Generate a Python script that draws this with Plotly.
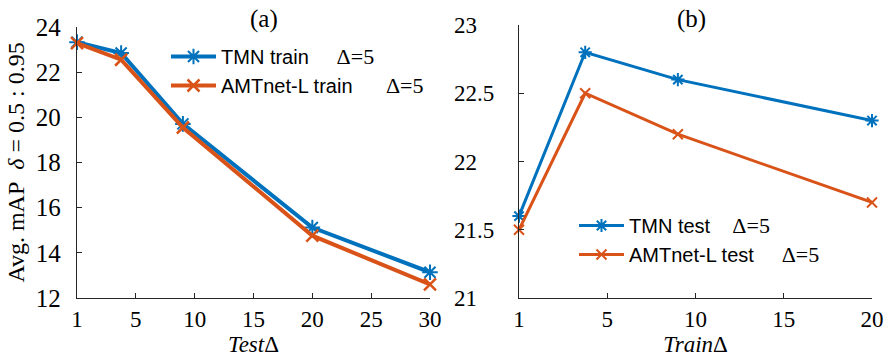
import numpy as np
import plotly.graph_objects as go

# ---- data ----
ticks_a = [1, 5, 10, 15, 20, 25, 30]
x_a = [1, 4, 9, 20, 30]
tmn_train = [23.33, 22.85, 19.71, 15.12, 13.14]
amt_train = [23.29, 22.55, 19.55, 14.76, 12.60]

ticks_b = [1, 5, 10, 15, 20]
x_b = [1, 4, 9, 20]
tmn_test = [21.6, 22.8, 22.6, 22.3]
amt_test = [21.5, 22.5, 22.2, 21.7]

yticks_a = [12, 14, 16, 18, 20, 22, 24]
yticks_b = [21, 21.5, 22, 22.5, 23]

BLUE = "#0072BD"
ORANGE = "#D95319"
AX = "#262626"
SERIF = "Liberation Serif"
SANS = "Liberation Sans"

W, H = 891, 363


def pos(x, ticks):
    # the original axis places its ticks evenly; map values piecewise onto them
    return np.interp(x, ticks, np.arange(len(ticks)))


def label(name, gap):
    return (name + "\u00a0" * gap +
            '<span style="font-family:Liberation Serif;font-size:22px">\u0394=5</span>')


def ytext(v):
    s = f"{v:g}"
    # pad integers so that labels line up on the left like the original
    return s if "." in s else s + "\u2008\u2007"


fig = go.Figure()

fig.add_trace(go.Scatter(
    x=pos(x_a, ticks_a), y=tmn_train, mode="lines+markers",
    name=label("TMN train", 5), legend="legend",
    line=dict(color=BLUE, width=4),
    marker=dict(symbol="asterisk-open", size=13, color=BLUE,
                line=dict(color=BLUE, width=2)),
    xaxis="x", yaxis="y", cliponaxis=False))
fig.add_trace(go.Scatter(
    x=pos(x_a, ticks_a), y=amt_train, mode="lines+markers",
    name=label("AMTnet-L train", 6), legend="legend",
    line=dict(color=ORANGE, width=4),
    marker=dict(symbol="x-thin-open", size=12, color=ORANGE,
                line=dict(color=ORANGE, width=2.5)),
    xaxis="x", yaxis="y", cliponaxis=False))

fig.add_trace(go.Scatter(
    x=pos(x_b, ticks_b), y=tmn_test, mode="lines+markers",
    name=label("TMN test", 4), legend="legend2",
    line=dict(color=BLUE, width=3),
    marker=dict(symbol="asterisk-open", size=11, color=BLUE,
                line=dict(color=BLUE, width=2)),
    xaxis="x2", yaxis="y2", cliponaxis=False))
fig.add_trace(go.Scatter(
    x=pos(x_b, ticks_b), y=amt_test, mode="lines+markers",
    name=label("AMTnet-L test", 5), legend="legend2",
    line=dict(color=ORANGE, width=3),
    marker=dict(symbol="x-thin-open", size=10, color=ORANGE,
                line=dict(color=ORANGE, width=2)),
    xaxis="x2", yaxis="y2", cliponaxis=False))

common_axis = dict(showline=True, linecolor=AX, linewidth=1.3, ticks="inside",
                   ticklen=5, tickwidth=1.2, tickcolor=AX, showgrid=False,
                   zeroline=False, mirror=False, automargin=False)
tick23 = dict(family=SERIF, size=23, color="#000")

fig.update_layout(
    template="none",
    width=W, height=H,
    margin=dict(l=0, r=0, t=0, b=0, pad=0),
    font=dict(family=SERIF, color="#000"),
    paper_bgcolor="white", plot_bgcolor="white",
    xaxis=dict(domain=[77 / W, 430 / W], range=[0, len(ticks_a) - 1],
               tickvals=list(range(len(ticks_a))), ticktext=[str(t) for t in ticks_a],
               anchor="y", ticklabelstandoff=0, tickfont=tick23,
               title=dict(text="<i>Test</i>\u0394", standoff=2,
                          font=dict(family=SERIF, size=23, color="#000")),
               **common_axis),
    yaxis=dict(domain=[1 - 298 / H, 1 - 27 / H], range=[12, 24],
               tickvals=yticks_a, anchor="x", ticklabelstandoff=10,
               tickfont=dict(family=SERIF, size=25, color="#000"),
               title=dict(text="Avg. mAP\u00a0\u00a0<i>\u03b4</i> = 0.5 : 0.95", standoff=4,
                          font=dict(family=SERIF, size=24, color="#000")),
               **common_axis),
    xaxis2=dict(domain=[519 / W, 872 / W], range=[0, len(ticks_b) - 1],
                tickvals=list(range(len(ticks_b))), ticktext=[str(t) for t in ticks_b],
                anchor="y2", ticklabelstandoff=0, tickfont=tick23,
                title=dict(text="<i>Train</i>\u0394", standoff=2,
                           font=dict(family=SERIF, size=23, color="#000")),
                **common_axis),
    yaxis2=dict(domain=[1 - 298 / H, 1 - 25 / H], range=[21, 23],
                tickvals=yticks_b, ticktext=[ytext(v) for v in yticks_b],
                anchor="x2", ticklabelstandoff=19, tickfont=tick23,
                **common_axis),
    legend=dict(x=166 / W, y=1 - 37 / H, xanchor="left", yanchor="top",
                bgcolor="rgba(0,0,0,0)", borderwidth=0,
                font=dict(family=SANS, size=20, color="#000"),
                tracegroupgap=0, itemwidth=45),
    legend2=dict(x=574 / W, y=1 - 206 / H, xanchor="left", yanchor="top",
                 bgcolor="rgba(0,0,0,0)", borderwidth=0,
                 font=dict(family=SANS, size=20, color="#000"),
                 tracegroupgap=0, itemwidth=45),
    showlegend=True,
    annotations=[
        dict(text="(a)", x=248 / W, y=1 - 19 / H, xref="paper", yref="paper",
             yanchor="middle", showarrow=False,
             font=dict(family=SERIF, size=25, color="#000")),
        dict(text="(b)", x=708 / W, y=1 - 19 / H, xref="paper", yref="paper",
             yanchor="middle", showarrow=False,
             font=dict(family=SERIF, size=25, color="#000")),
    ],
)

# remove the browser's default 8px page margin so the 891x363 figure fills the window
fig.write_html("out.html", config={"displayModeBar": False},
               post_script="document.body.style.margin='0px';")
